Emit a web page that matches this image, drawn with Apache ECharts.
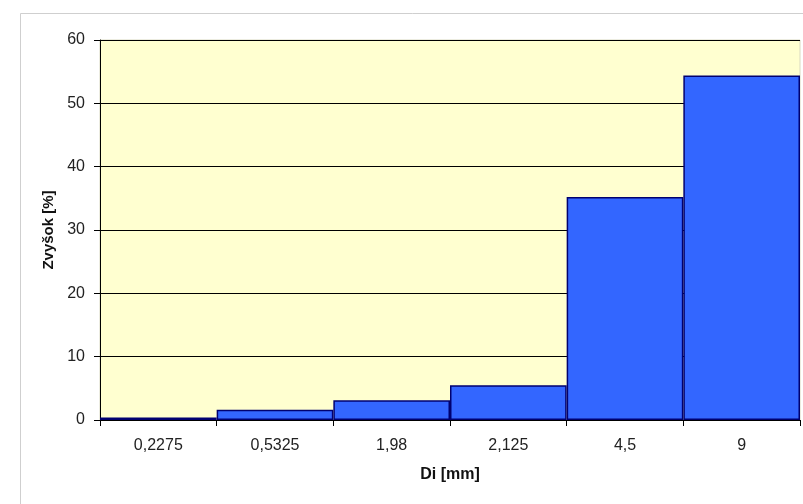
<!DOCTYPE html>
<html>
<head>
<meta charset="utf-8">
<script src="https://cdn.jsdelivr.net/npm/echarts@6/dist/echarts.min.js"></script>
<style>html,body{margin:0;padding:0;background:#fff;}#c{width:803px;height:504px;}</style>
</head>
<body>
<div id="c"></div>
<script>
const categories = ['0,2275', '0,5325', '1,98', '2,125', '4,5', '9'];
const values = [0.4, 1.6, 3.1, 5.5, 35.2, 54.4];
const yTicks = {min: 0, max: 60, interval: 10};
const xName = 'Di [mm]';
const yName = 'Zvyšok [%]';

const chart = echarts.init(document.getElementById('c'), null, {renderer: 'canvas'});
chart.setOption({
  backgroundColor: '#ffffff',
  animation: false,
  textStyle: {fontFamily: 'Liberation Sans, Arial, sans-serif'},
  graphic: [{
    type: 'rect', left: 18, top: 11, silent: true,
    shape: {width: 800, height: 510},
    style: {fill: 'none', stroke: '#cfcfcf', lineWidth: 1}
  }],
  grid: {
    left: 100, right: 3, top: 40, bottom: 84,
    containLabel: false, outerBoundsMode: 'none',
    show: true, backgroundColor: '#FFFFD0', borderColor: '#d9d9c0', borderWidth: 1
  },
  xAxis: {
    type: 'category', data: categories, boundaryGap: true,
    name: xName, nameLocation: 'middle', nameGap: 47,
    nameTextStyle: {fontWeight: 'bold', fontSize: 16, color: '#111'},
    axisLine: {lineStyle: {color: '#000', width: 1}},
    axisTick: {show: true, alignWithLabel: false, length: 6, lineStyle: {color: '#000'}},
    axisLabel: {color: '#222', fontSize: 16, margin: 18},
    splitLine: {show: false}
  },
  yAxis: {
    type: 'value', min: yTicks.min, max: yTicks.max, interval: yTicks.interval,
    name: yName, nameLocation: 'middle', nameGap: 42, nameRotate: 90,
    nameTextStyle: {fontWeight: 'bold', fontSize: 15, color: '#111'},
    axisLine: {show: true, lineStyle: {color: '#000', width: 1}},
    axisTick: {show: true, length: 6, lineStyle: {color: '#000'}},
    axisLabel: {color: '#222', fontSize: 16, margin: 15},
    splitLine: {show: true, lineStyle: {color: '#000', width: 1}}
  },
  series: [{
    type: 'bar', data: values, barCategoryGap: '0%',
    itemStyle: {color: '#3366FF', borderColor: '#000070', borderWidth: 1.5}
  }]
});
</script>
</body>
</html>
